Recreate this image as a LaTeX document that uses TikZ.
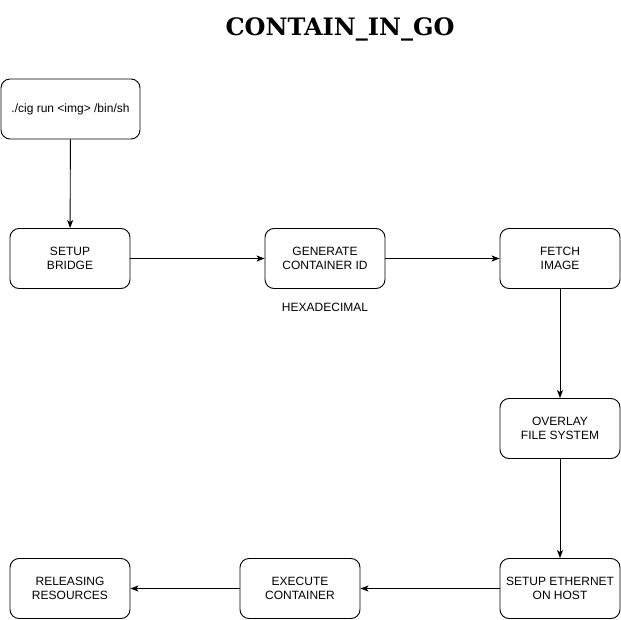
\documentclass[tikz,border=0pt]{standalone}
\usepackage{fontspec}
\setmainfont{Liberation Sans}
\newfontfamily\titlefont{DejaVu Serif}
\usetikzlibrary{arrows.meta}
\begin{document}
\begin{tikzpicture}[x=1pt,y=-1pt,
  box/.style={draw=black,line width=0.9pt,rounded corners=9pt,minimum width=120pt,minimum height=60pt,align=center,font=\fontsize{12}{14}\selectfont,inner sep=0pt},
  conn/.style={draw=black,line width=0.9pt,-{Stealth[length=8pt,width=6pt,inset=2pt]}}]
\useasboundingbox (0,0) rectangle (621,620);
\fill[white] (0,0) rectangle (621,620);
\node[font=\titlefont\bfseries\fontsize{24}{28}\selectfont] (title) at (340,29) {CONTAIN\_IN\_GO};
\node[box,minimum width=139pt] (cmd) at (70.5,109) {./cig run <img> /bin/sh};
\node[box] (bridge) at (70,258.5) {SETUP\\BRIDGE};
\node[box] (gen) at (325,258.5) {GENERATE\\CONTAINER ID};
\node[font=\fontsize{12}{14}\selectfont] (hex) at (325,307) {HEXADECIMAL};
\node[box] (fetch) at (560,258.5) {FETCH\\IMAGE};
\node[box] (overlay) at (560,428.5) {OVERLAY\\FILE SYSTEM};
\node[box] (eth) at (560,588.5) {SETUP ETHERNET\\ON HOST};
\node[box] (exec) at (300,588.5) {EXECUTE\\CONTAINER};
\node[box] (rel) at (70,588.5) {RELEASING\\RESOURCES};
\draw[conn] (cmd) -- (bridge);
\draw[conn] (bridge) -- (gen);
\draw[conn] (gen) -- (fetch);
\draw[conn] (fetch) -- (overlay);
\draw[conn] (overlay) -- (eth);
\draw[conn] (eth) -- (exec);
\draw[conn] (exec) -- (rel);
\end{tikzpicture}
\end{document}
